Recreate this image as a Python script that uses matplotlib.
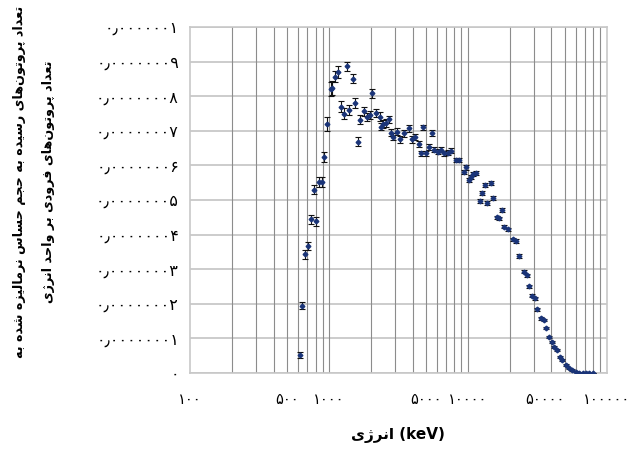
import numpy as np
import matplotlib
matplotlib.use("Agg")
import matplotlib.pyplot as plt
from matplotlib.ticker import FixedLocator, FuncFormatter

# energy (keV) and normalised counts (in units of 1e-8)
energy = [616, 644, 673, 703, 743, 777, 807, 853, 887, 921,
          974, 1028, 1058, 1099, 1155, 1228, 1275, 1356, 1400, 1480,
          1530, 1615, 1680, 1775, 1875, 1960, 2036, 2165, 2312, 2377,
          2470, 2582, 2698, 2805, 2914, 3076, 3272, 3496, 3752, 3972,
          4192, 4430, 4608, 4784, 5002, 5285, 5525, 5737, 6061, 6410,
          6770, 7150, 7562, 8220, 8680, 9420, 9700, 10120, 10520, 10930,
          11420, 12210, 12750, 13340, 13840, 14650, 15300, 16340, 16900, 17580,
          18240, 19600, 21190, 22370, 23380, 25400, 26850, 27600, 29140, 30470,
          31640, 33480, 35340, 36730, 38380, 40160, 41700, 44060, 45810, 47860,
          50580, 53460, 56470, 59670, 63000, 67000, 71000, 75000, 80000]
counts = [0.52, 1.95, 3.43, 3.67, 4.45, 5.29, 4.38, 5.53, 5.53, 6.25,
          7.20, 8.20, 8.23, 8.56, 8.70, 7.70, 7.50, 8.87, 7.60, 8.51,
          7.81, 6.69, 7.32, 7.56, 7.39, 7.45, 8.08, 7.52, 7.41, 7.12,
          7.20, 7.23, 7.33, 6.95, 6.83, 6.98, 6.75, 6.93, 7.07, 6.75,
          6.83, 6.62, 6.35, 7.10, 6.35, 6.54, 6.93, 6.45, 6.40, 6.45,
          6.35, 6.37, 6.43, 6.16, 6.16, 5.82, 5.94, 5.58, 5.67, 5.74,
          5.79, 4.96, 5.21, 5.43, 4.92, 5.50, 5.05, 4.50, 4.47, 4.71,
          4.23, 4.15, 3.86, 3.82, 3.38, 2.93, 2.83, 2.51, 2.23, 2.16,
          1.84, 1.58, 1.53, 1.29, 1.05, 0.90, 0.76, 0.66, 0.47, 0.38,
          0.23, 0.14, 0.09, 0.04, 0.015, 0.005, 0.003, 0.002, 0.001]
errors = [0.08, 0.10, 0.12, 0.12, 0.13, 0.13, 0.13, 0.14, 0.14, 0.15,
          0.20, 0.20, 0.20, 0.16, 0.16, 0.16, 0.16, 0.13, 0.15, 0.14,
          0.14, 0.12, 0.13, 0.13, 0.12, 0.12, 0.13, 0.12, 0.12, 0.11,
          0.11, 0.11, 0.11, 0.10, 0.10, 0.10, 0.10, 0.10, 0.10, 0.09,
          0.09, 0.09, 0.08, 0.08, 0.08, 0.08, 0.08, 0.07, 0.07, 0.07,
          0.07, 0.07, 0.07, 0.06, 0.06, 0.06, 0.06, 0.06, 0.06, 0.06,
          0.06, 0.06, 0.06, 0.06, 0.06, 0.06, 0.06, 0.05, 0.05, 0.05,
          0.05, 0.05, 0.05, 0.05, 0.05, 0.04, 0.04, 0.04, 0.04, 0.04,
          0.04, 0.04, 0.04, 0.03, 0.03, 0.03, 0.03, 0.03, 0.03, 0.02,
          0.02, 0.02, 0.02, 0.01, 0.01, 0.01, 0.01, 0.01, 0.01]

x_ticks = [100, 500, 1000, 5000, 10000, 50000, 100000]
y_ticks = [i * 1e-8 for i in range(11)]

# persian text: matplotlib does no arabic shaping, so do it by hand
# (isolated, final, initial, medial)
FORMS = {
    '\u0627': ('\uFE8D', '\uFE8E', None, None),
    '\u0628': ('\uFE8F', '\uFE90', '\uFE91', '\uFE92'),
    '\u067E': ('\uFB56', '\uFB57', '\uFB58', '\uFB59'),
    '\u062A': ('\uFE95', '\uFE96', '\uFE97', '\uFE98'),
    '\u062C': ('\uFE9D', '\uFE9E', '\uFE9F', '\uFEA0'),
    '\u062D': ('\uFEA1', '\uFEA2', '\uFEA3', '\uFEA4'),
    '\u062F': ('\uFEA9', '\uFEAA', None, None),
    '\u0631': ('\uFEAD', '\uFEAE', None, None),
    '\u0632': ('\uFEAF', '\uFEB0', None, None),
    '\u0698': ('\uFB8A', '\uFB8B', None, None),
    '\u0633': ('\uFEB1', '\uFEB2', '\uFEB3', '\uFEB4'),
    '\u0634': ('\uFEB5', '\uFEB6', '\uFEB7', '\uFEB8'),
    '\u0639': ('\uFEC9', '\uFECA', '\uFECB', '\uFECC'),
    '\u0641': ('\uFED1', '\uFED2', '\uFED3', '\uFED4'),
    '\u0644': ('\uFEDD', '\uFEDE', '\uFEDF', '\uFEE0'),
    '\u0645': ('\uFEE1', '\uFEE2', '\uFEE3', '\uFEE4'),
    '\u0646': ('\uFEE5', '\uFEE6', '\uFEE7', '\uFEE8'),
    '\u0647': ('\uFEE9', '\uFEEA', '\uFEEB', '\uFEEC'),
    '\u0648': ('\uFEED', '\uFEEE', None, None),
    '\u06CC': ('\uFBFC', '\uFBFD', '\uFBFE', '\uFBFF'),
}


def shape(s):
    out = []
    for i, c in enumerate(s):
        if c not in FORMS:
            if c != '\u200c':
                out.append(c)
            continue
        prev = s[i - 1] if i > 0 else ''
        nxt = s[i + 1] if i + 1 < len(s) else ''
        join_prev = prev in FORMS and FORMS[prev][2] is not None
        join_next = nxt in FORMS and FORMS[c][2] is not None
        iso, fin, ini, med = FORMS[c]
        if join_prev and join_next:
            out.append(med)
        elif join_prev:
            out.append(fin)
        elif join_next:
            out.append(ini)
        else:
            out.append(iso)
    return ''.join(out)[::-1]


FA_DIGITS = str.maketrans('0123456789.', '۰۱۲۳۴۵۶۷۸۹٫')


def fa_num(v, pos=None):
    if v == 0:
        return '۰'
    s = ('%.8f' % v).rstrip('0')
    if abs(v) >= 1:
        s = '%d' % round(v)
    return s.translate(FA_DIGITS)


ylab1 = shape('تعداد پروتون\u200cهای رسیده به حجم حساس نرمالیزه شده به')
ylab2 = shape('تعداد پروتون\u200cهای فرودی بر واحد انرژی')
xlab = shape('انرژی') + ' (keV)'

fig = plt.figure(figsize=(6.4, 4.5), dpi=100)
ax = fig.add_axes([0.297, 0.171, 0.651, 0.769])

E = np.array(energy)
C = np.array(counts) * 1e-8
err = np.array(errors) * 1e-8
ax.errorbar(E, C, yerr=err, fmt='D', ms=2.4, color='#1a3478',
            ecolor='#111111', elinewidth=0.8, capsize=2.5, capthick=0.8, zorder=3)

ax.set_xscale('log')
ax.set_xlim(100, 100000)
ax.set_ylim(0, 1e-7)

ax.xaxis.set_major_locator(FixedLocator(x_ticks))
ax.xaxis.set_minor_locator(FixedLocator([m * 10 ** d for d in range(2, 5) for m in range(2, 10)]))
ax.xaxis.set_major_formatter(FuncFormatter(lambda v, p: fa_num(v)))
ax.xaxis.set_minor_formatter(FuncFormatter(lambda v, p: ''))
ax.yaxis.set_major_locator(FixedLocator(y_ticks))
ax.yaxis.set_major_formatter(FuncFormatter(fa_num))

ax.tick_params(axis='both', which='both', length=0)
ax.tick_params(axis='x', pad=14, labelsize=10.5)
ax.tick_params(axis='y', pad=8, labelsize=11.5)

# the two last x labels would touch, so hang the 50000 one left of its tick
xt = ax.xaxis.get_major_ticks()
xt[5].label1.set_horizontalalignment('right')

# vertical grid on every log step, horizontal grid on y ticks
for v in [m * 10 ** d for d in range(2, 5) for m in range(1, 10)][1:]:
    ax.axvline(v, color='#8c8c8c', lw=0.8, zorder=1)
ax.yaxis.grid(True, color='#c4c4c4', lw=1.2, zorder=1)
ax.set_axisbelow(True)
for sp in ax.spines.values():
    sp.set_color('#c8c8c8')
    sp.set_linewidth(1.2)

ax.set_xlabel(xlab, fontsize=11, fontweight='bold', labelpad=14)
fig.text(0.030, 0.595, ylab1, rotation=90, ha='center', va='center',
         fontsize=9.2, fontweight='bold')
fig.text(0.076, 0.595, ylab2, rotation=90, ha='center', va='center',
         fontsize=9.2, fontweight='bold')

fig.savefig('out.png', dpi=100)
